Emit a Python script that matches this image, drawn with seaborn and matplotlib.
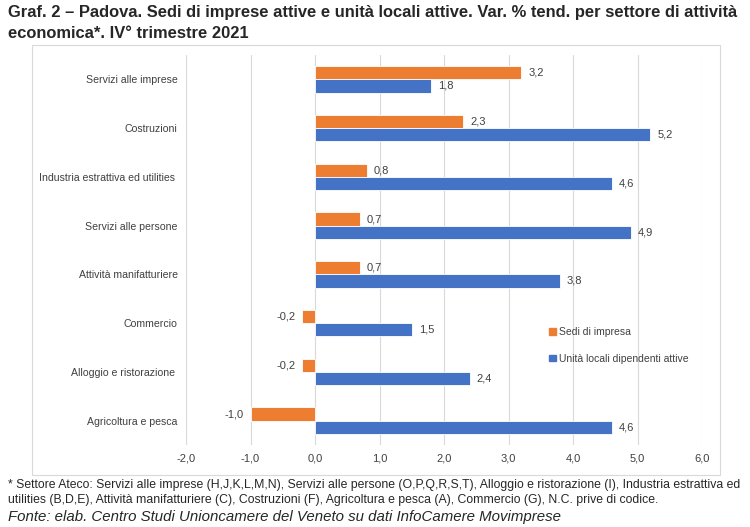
import matplotlib.pyplot as plt
import matplotlib.patches as mpatches
import pandas as pd
import seaborn as sns

# dati
settori = ["Servizi alle imprese", "Costruzioni", "Industria estrattiva ed utilities ",
           "Servizi alle persone", "Attività manifatturiere", "Commercio",
           "Alloggio e ristorazione ", "Agricoltura e pesca"]
sedi = [3.2, 2.3, 0.8, 0.7, 0.7, -0.2, -0.2, -1.0]
unita = [1.8, 5.2, 4.6, 4.9, 3.8, 1.5, 2.4, 4.6]
serie = ["Sedi di impresa", "Unità locali dipendenti attive"]
colori = ["#ED7D31", "#4472C4"]
ticks = [-2, -1, 0, 1, 2, 3, 4, 5, 6]

df = pd.DataFrame({
    "settore": settori * 2,
    "valore": sedi + unita,
    "serie": [serie[0]] * len(settori) + [serie[1]] * len(settori),
})

sns.set_style("white")
plt.rcParams["font.family"] = ["Liberation Sans", "DejaVu Sans"]

fig = plt.figure(figsize=(7.5, 5.27), dpi=100)
ax = fig.add_axes([186 / 750, 1 - 445 / 527, 516 / 750, 390 / 527])

sns.barplot(data=df, x="valore", y="settore", hue="serie", orient="h",
            palette=colori, saturation=1, width=0.54, edgecolor="white", linewidth=0.6,
            legend=False, ax=ax)

for cont in ax.containers:
    ax.bar_label(cont, labels=[f"{v:.1f}".replace(".", ",") for v in cont.datavalues],
                 padding=5, fontsize=8, color="#404040")

ax.set_xlim(-2, 6)
ax.set_xticks(ticks)
ax.set_xticklabels([f"{t:.1f}".replace(".", ",") for t in ticks], fontsize=8, color="#404040")
ax.tick_params(axis="y", labelsize=7.6, labelcolor="#404040", length=0, pad=6)
ax.tick_params(axis="x", length=0, pad=6)
ax.set_xlabel("")
ax.set_ylabel("")
ax.grid(axis="x", color="#D9D9D9", linewidth=0.8)
ax.set_axisbelow(True)
for s in ax.spines.values():
    s.set_visible(False)

# riquadro del grafico
fig.patches.append(mpatches.Rectangle((32 / 750, 1 - 475 / 527), 688 / 750, 430 / 527,
                                      transform=fig.transFigure, fill=False,
                                      edgecolor="#D9D9D9", linewidth=0.8))

handles = [mpatches.Patch(color=c, label=l) for c, l in zip(colori, serie)]
fig.legend(handles=handles, loc="upper left", bbox_to_anchor=(540 / 750, 1 - 318 / 527),
           frameon=False, fontsize=7.5, handlelength=0.6, handleheight=0.6,
           handletextpad=0.3, labelspacing=1.55, labelcolor="#404040")

fig.text(8 / 750, 1 - 13 / 527,
         "Graf. 2 – Padova. Sedi di imprese attive e unità locali attive. Var. % tend. per settore di attività",
         fontsize=11.9, fontweight="bold", va="center", ha="left")
fig.text(8 / 750, 1 - 33 / 527, "economica*. IV° trimestre 2021",
         fontsize=11.9, fontweight="bold", va="center", ha="left")

fig.text(8 / 750, 1 - 485 / 527,
         "* Settore Ateco: Servizi alle imprese (H,J,K,L,M,N), Servizi alle persone (O,P,Q,R,S,T), "
         "Alloggio e ristorazione (I), Industria estrattiva ed",
         fontsize=8.85, va="center", ha="left")
fig.text(8 / 750, 1 - 500 / 527,
         "utilities (B,D,E), Attività manifatturiere (C), Costruzioni (F), Agricoltura e pesca (A), "
         "Commercio (G), N.C. prive di codice.",
         fontsize=8.85, va="center", ha="left")
fig.text(8 / 750, 1 - 517 / 527,
         "Fonte: elab. Centro Studi Unioncamere del Veneto su dati InfoCamere Movimprese",
         fontsize=10.8, style="italic", va="center", ha="left")

fig.savefig("out.png", dpi=100)
